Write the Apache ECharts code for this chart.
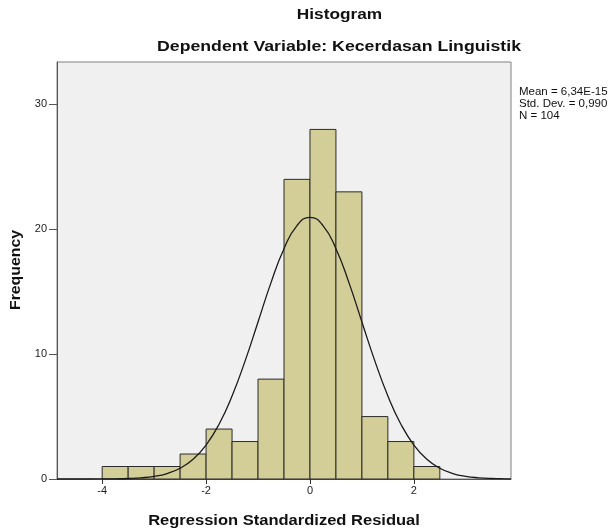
<!DOCTYPE html>
<html lang="id">
<head>
    <meta charset="UTF-8">
    <title>Histogram</title>
    <script src="https://cdn.jsdelivr.net/npm/echarts/dist/echarts.min.js"></script>
    <style>
        body { margin: 0; background: #ffffff; }
        #chart { width: 614px; height: 531px; }
    </style>
</head>
<body>
<div id="chart"></div>
<script>
    // histogram bins (lower edge) and frequencies
    const binStart = [-4, -3.5, -3, -2.5, -2, -1.5, -1, -0.5, 0, 0.5, 1, 1.5, 2];
    const counts = [1, 1, 1, 2, 4, 3, 8, 24, 28, 23, 5, 3, 1];
    const binWidth = 0.5;

    // normal curve points
    const curveX = [-4.87, -4.5, -4.25, -4, -3.75, -3.5, -3.25, -3, -2.75, -2.5, -2.25, -2, -1.75, -1.5, -1.25, -1, -0.75, -0.5, -0.25, 0,
        0.25, 0.5, 0.75, 1, 1.25, 1.5, 1.75, 2, 2.25, 2.5, 2.75, 3, 3.25, 3.5, 3.75, 3.87];
    const curveY = [0.0, 0.0005, 0.002, 0.006, 0.016, 0.04, 0.096, 0.21, 0.44, 0.86, 1.58, 2.72, 4.39, 6.65, 9.44, 12.58, 15.73, 18.45, 20.3, 20.96,
        20.3, 18.45, 15.73, 12.58, 9.44, 6.65, 4.39, 2.72, 1.58, 0.86, 0.44, 0.21, 0.096, 0.04, 0.016, 0.01];

    const xTicks = [-4, -2, 0, 2];
    const yTicks = [0, 10, 20, 30];
    const statsLines = ['Mean = 6,34E-15', 'Std. Dev. = 0,990', 'N = 104'];

    const chart = echarts.init(document.getElementById('chart'));
    const font = '"Liberation Sans", Arial, sans-serif';

    const option = {
        animation: false,
        grid: {
            left: 57, right: 103, top: 62, bottom: 52,
            show: true,
            backgroundColor: '#f0f0f0',
            borderColor: '#808080',
            borderWidth: 1
        },
        xAxis: {
            type: 'value',
            min: -4.87,
            max: 3.87,
            axisLine: { show: true, onZero: false, lineStyle: { color: '#555555' } },
            axisTick: { show: true, customValues: xTicks, length: 5, lineStyle: { color: '#333333' } },
            axisLabel: { customValues: xTicks, color: '#222222', fontFamily: font, fontSize: 11, margin: 6 },
            splitLine: { show: false }
        },
        yAxis: {
            type: 'value',
            min: 0,
            max: 33.4,
            axisLine: { show: true, onZero: false, lineStyle: { color: '#555555' } },
            axisTick: { show: true, customValues: yTicks, length: 8, lineStyle: { color: '#555555' } },
            axisLabel: { customValues: yTicks, color: '#222222', fontFamily: font, fontSize: 11, margin: 10 },
            splitLine: { show: false }
        },
        graphic: [
            { type: 'text', x: 339.5, y: 15, scaleX: 1.15,
              style: { text: 'Histogram', font: 'bold 15px ' + font, fill: '#111111', align: 'center', verticalAlign: 'middle' } },
            { type: 'text', x: 339, y: 47, scaleX: 1.18,
              style: { text: 'Dependent Variable: Kecerdasan Linguistik', font: 'bold 15px ' + font, fill: '#111111', align: 'center', verticalAlign: 'middle' } },
            { type: 'text', x: 284, y: 521, scaleX: 1.18,
              style: { text: 'Regression Standardized Residual', font: 'bold 14px ' + font, fill: '#111111', align: 'center', verticalAlign: 'middle' } },
            { type: 'text', x: 16, y: 270, rotation: Math.PI / 2, scaleX: 1.13,
              style: { text: 'Frequency', font: 'bold 14px ' + font, fill: '#111111', align: 'center', verticalAlign: 'middle' } },
            { type: 'text', x: 519, y: 86,
              style: { text: statsLines.join('\n'), font: '11.5px ' + font, lineHeight: 12, fill: '#111111' } }
        ],
        series: [
            {
                type: 'custom',
                data: binStart.map((s, i) => [s, s + binWidth, counts[i]]),
                renderItem: function (params, api) {
                    const p0 = api.coord([api.value(0), 0]);
                    const p1 = api.coord([api.value(1), api.value(2)]);
                    return {
                        type: 'rect',
                        shape: { x: p0[0], y: p1[1], width: p1[0] - p0[0], height: p0[1] - p1[1] },
                        style: { fill: '#d3ce97', stroke: '#2b2b2b', lineWidth: 1 }
                    };
                }
            },
            {
                type: 'line',
                data: curveX.map((x, i) => [x, curveY[i]]),
                smooth: true,
                showSymbol: false,
                lineStyle: { color: '#1a1a1a', width: 1.3 },
                z: 5
            }
        ]
    };

    chart.setOption(option);
</script>
</body>
</html>
